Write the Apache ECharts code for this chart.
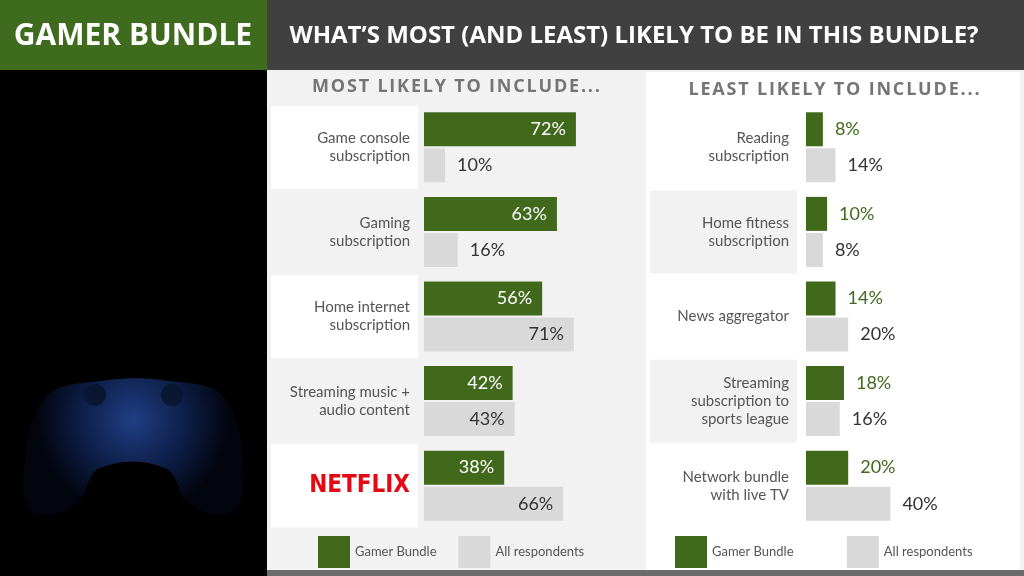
<!DOCTYPE html>
<html><head><meta charset="utf-8">
<script src="https://cdn.jsdelivr.net/npm/echarts@6/dist/echarts.min.js"></script>
<style>html,body{margin:0;padding:0;background:#000}#c{width:1024px;height:576px}</style>
</head><body><div id="c"></div>
<script>
const mostCategories = ['Game console\nsubscription','Gaming\nsubscription','Home internet\nsubscription','Streaming music +\naudio content','NETFLIX'];
const mostGamer = [72,63,56,42,38];
const mostAll = [10,16,71,43,66];
const leastCategories = ['Reading\nsubscription','Home fitness\nsubscription','News aggregator','Streaming\nsubscription to\nsports league','Network bundle\nwith live TV'];
const leastGamer = [8,10,14,18,20];
const leastAll = [14,8,20,16,40];

const GREEN='#41691c', GREY='#d9d9d9';
const chart = echarts.init(document.getElementById('c'));
const font = 'Lato, "Open Sans", sans-serif';
function yAxis(idx, cats, margin){
  return {type:'category',gridIndex:idx,data:cats,inverse:true,axisLine:{show:false},axisTick:{show:false},
    axisLabel:{margin:margin,color:'#555',fontSize:15,fontFamily:font,lineHeight:18,align:'right',
      formatter:v=>v==='NETFLIX'?'{n|NETFLIX}':v,
      rich:{n:{color:'#e50914',fontSize:24,fontWeight:'bold',fontFamily:'"Liberation Sans Narrow","DejaVu Sans Condensed",sans-serif'}}}};
}
function xAxis(idx){return {type:'value',gridIndex:idx,min:0,max:100,show:false};}
function lab(vals, insideMin, inColor, outColor){
  return vals.map(v=>({value:v,label:{show:true,position:v>=insideMin?'insideRight':'right',
    color:v>=insideMin?inColor:outColor,fontSize:18,fontFamily:font,distance:v>=insideMin?10:12,
    formatter:'{c}%'}}));
}
const boxes=[];
[0,2,4].forEach(i=>boxes.push({type:'rect',shape:{x:271,y:106+i*84.6,width:147,height:83},style:{fill:'#fff'},z:-1}));
[1,3].forEach(i=>boxes.push({type:'rect',shape:{x:650,y:106+i*84.6,width:147,height:83},style:{fill:'#f2f2f2'},z:-1}));
chart.setOption({
  animation:false,
  backgroundColor:'#000',
  graphic:[
    {type:'rect',shape:{x:267,y:70,width:757,height:506},style:{fill:'#f2f2f2'},z:-3},
    {type:'rect',shape:{x:646,y:72,width:374,height:500},style:{fill:'#fff'},z:-2},
    {type:'rect',shape:{x:0,y:0,width:267,height:70},style:{fill:'#3e6b1e'}},
    {type:'rect',shape:{x:267,y:0,width:757,height:70},style:{fill:'#404040'}},
    {type:'rect',shape:{x:267,y:570,width:757,height:6},style:{fill:'#6b6b6b'}},
    {type:'text',x:133,y:36,style:{text:'GAMER BUNDLE',fill:'#fff',font:'bold 30px "Open Sans", sans-serif',align:'center',verticalAlign:'middle'}},
    {type:'text',x:634,y:36,style:{text:'WHAT’S MOST (AND LEAST) LIKELY TO BE IN THIS BUNDLE?',fill:'#fff',font:'bold 24px "Open Sans", sans-serif',align:'center',verticalAlign:'middle'}},
    {type:'text',x:456,y:87,style:{text:'MOST LIKELY TO INCLUDE...'.split('').join('\u200a'),fill:'#757575',font:'bold 18px "Open Sans", sans-serif',align:'center',verticalAlign:'middle'}},
    {type:'text',x:834,y:90,style:{text:'LEAST LIKELY TO INCLUDE...'.split('').join('\u200a'),fill:'#757575',font:'bold 18px "Open Sans", sans-serif',align:'center',verticalAlign:'middle'}},
    {type:'polygon',shape:{smooth:0.4,points:[[45,398],[100,381],[170,381],[225,398],[243,470],[232,512],[190,505],[165,468],[100,468],[75,505],[32,512],[24,470]]},
      style:{fill:new echarts.graphic.RadialGradient(0.5,0.3,0.7,[{offset:0,color:'#203f85'},{offset:0.6,color:'#0c1b42'},{offset:1,color:'#02050d'}])},z:-1},
    {type:'circle',shape:{cx:95,cy:395,r:11},style:{fill:'#0a1733'}},
    {type:'circle',shape:{cx:172,cy:395,r:11},style:{fill:'#0a1733'}},
    ...boxes
  ],
  legend:[
    {data:['Gamer Bundle','All respondents'],left:313,top:531,itemWidth:32,itemHeight:32,itemGap:22,icon:'rect',textStyle:{color:'#555',fontSize:13,fontFamily:font}},
    {data:['Gamer Bundle ','All respondents '],left:670,top:531,itemWidth:32,itemHeight:32,itemGap:50,icon:'rect',textStyle:{color:'#555',fontSize:13,fontFamily:font}}
  ],
  grid:[
    {left:424,top:105,width:211,height:423},
    {left:806,top:105,width:211,height:423}
  ],
  xAxis:[xAxis(0),xAxis(1)],
  yAxis:[yAxis(0,mostCategories,14),yAxis(1,leastCategories,17)],
  series:[
    {name:'Gamer Bundle',type:'bar',xAxisIndex:0,yAxisIndex:0,barWidth:34,barGap:'6%',itemStyle:{color:GREEN},data:lab(mostGamer,30,'#fff','#fff')},
    {name:'All respondents',type:'bar',xAxisIndex:0,yAxisIndex:0,barWidth:34,barGap:'6%',itemStyle:{color:GREY},data:lab(mostAll,30,'#333','#333')},
    {name:'Gamer Bundle ',type:'bar',xAxisIndex:1,yAxisIndex:1,barWidth:34,barGap:'6%',itemStyle:{color:GREEN},data:lab(leastGamer,1000,'#fff',GREEN)},
    {name:'All respondents ',type:'bar',xAxisIndex:1,yAxisIndex:1,barWidth:34,barGap:'6%',itemStyle:{color:GREY},data:lab(leastAll,1000,'#333','#333')}
  ]
});
</script></body></html>
